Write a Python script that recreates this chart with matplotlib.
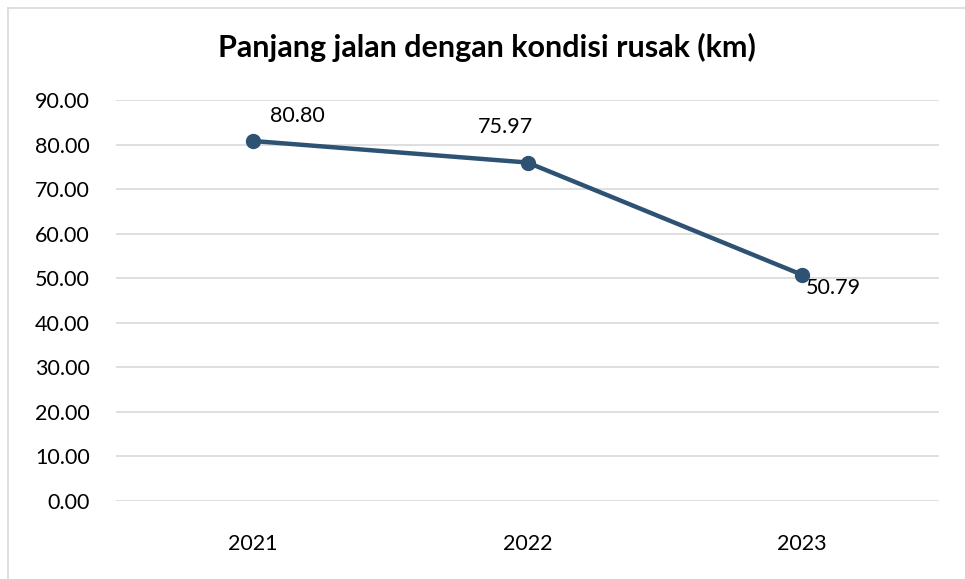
import matplotlib.pyplot as plt
from matplotlib.lines import Line2D

years = ["2021", "2022", "2023"]
values = [80.80, 75.97, 50.79]
labels = ["80.80", "75.97", "50.79"]
label_offsets = [(44, 25), (-22, 36), (32, -13)]  # pixel offsets of data labels
yticks = [0, 10, 20, 30, 40, 50, 60, 70, 80, 90]

plt.rcParams["font.family"] = ["Lato", "DejaVu Sans"]

fig = plt.figure(figsize=(9.65, 5.79), dpi=100)
ax = fig.add_axes([116 / 965, 1 - 501 / 579, (939 - 116) / 965, (501 - 100) / 579])

xs = [i + 0.5 for i in range(len(years))]
ax.plot(xs, values, color="#2E5274", linewidth=3.2, marker="o", markersize=10,
        solid_capstyle="round", zorder=3)

for x, v, lab, off in zip(xs, values, labels, label_offsets):
    ax.annotate(lab, (x, v), xytext=off, textcoords="offset pixels",
                ha="center", va="center", fontsize=15.5, color="#000000")

ax.set_xlim(0, 3)
ax.set_ylim(0, 90)
ax.set_xticks(xs)
ax.set_xticklabels(years)
ax.set_yticks(yticks)
ax.set_yticklabels([f"{t:.2f}" for t in yticks])
ax.tick_params(axis="both", length=0, labelsize=15.5, colors="#000000")
ax.tick_params(axis="x", pad=24)
ax.tick_params(axis="y", pad=19)
ax.grid(axis="y", color="#D9D9D9", linewidth=1.2)
ax.set_axisbelow(True)
for s in ax.spines.values():
    s.set_visible(False)

fig.text(487 / 965, 1 - 47 / 579, "Panjang jalan dengan kondisi rusak (km)",
         ha="center", va="center", fontsize=22, fontweight="bold")

# chart border (only top and left visible in the crop)
fig.add_artist(Line2D([7.5 / 965, 7.5 / 965], [0, 1 - 7.5 / 579],
                      transform=fig.transFigure, color="#D9D9D9", linewidth=1.2))
fig.add_artist(Line2D([7.5 / 965, 1], [1 - 7.5 / 579, 1 - 7.5 / 579],
                      transform=fig.transFigure, color="#D9D9D9", linewidth=1.2))

fig.savefig("out.png", dpi=100)
